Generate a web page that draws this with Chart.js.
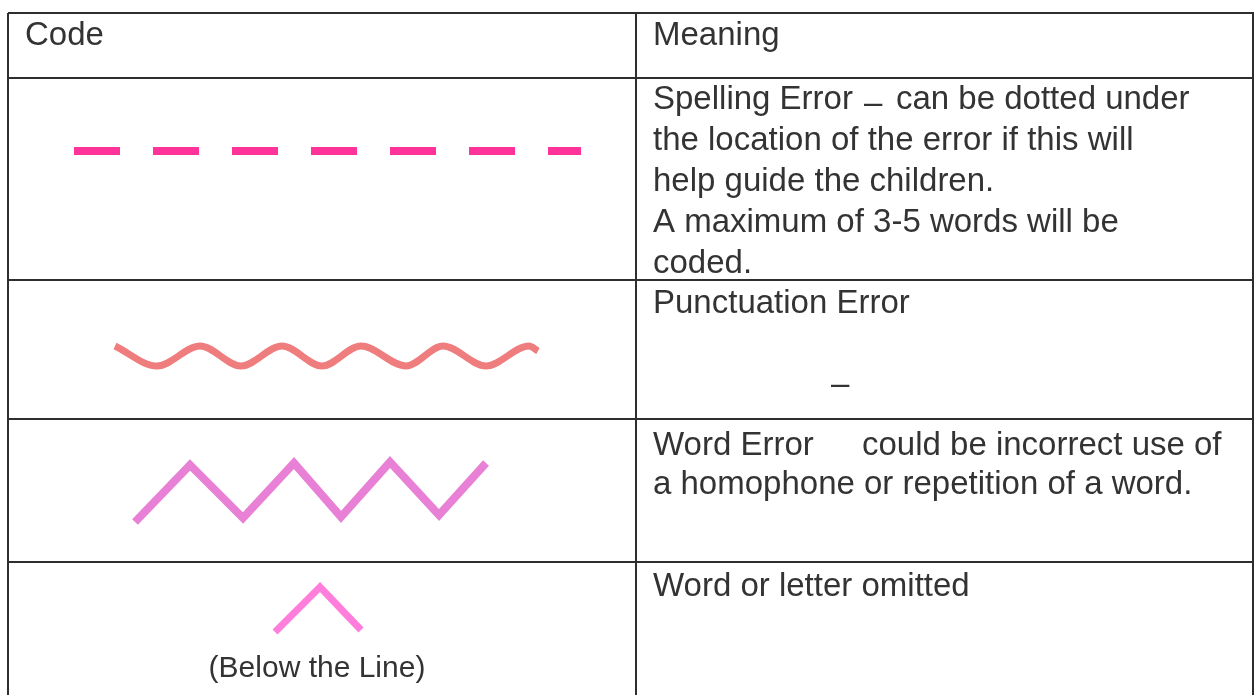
<!DOCTYPE html>
<html><head><meta charset="utf-8">
<script src="https://cdn.jsdelivr.net/npm/chart.js@4.4.1/dist/chart.umd.min.js"></script>
<style>html,body{margin:0;padding:0;background:#fff;overflow:hidden}canvas{display:block}</style>
</head><body><canvas id="c" width="1254" height="695"></canvas>
<script>
// ---- text content ----
const headerLabels = ["Code", "Meaning"];
const spellingText = ["Spelling Error", "\u2013", "can be dotted under",
  "the location of the error if this will", "help guide the children.",
  "A maximum of 3-5 words will be", "coded."];
const punctuationText = ["Punctuation Error", "\u2013"];
const wordErrorText = ["Word Error", "could be incorrect use of", "a homophone or repetition of a word."];
const omittedText = ["Word or letter omitted"];
const caretCaption = ["(Below the Line)"];

// ---- table rule values (scale units) ----
const columnRules = [8, 636, 1253];
const rowRules = [13, 78, 280, 419, 562];

// ---- code marks (scale units) ----
const spellingX = [74, 581];
const spellingY = [151, 151];
const waveX = [115, 157, 200, 241, 282, 322, 361, 406, 443, 486, 529, 538];
const waveY = [346, 366, 346, 366, 346, 366, 346, 366, 346, 366, 346, 351];
const zigzagX = [135, 190, 243, 294, 341, 390, 439, 486];
const zigzagY = [522, 465, 518, 463, 517, 462, 515, 463];
const caretX = [275, 320, 361];
const caretY = [632, 587, 630];

// ---- layout (positions separate from content) ----
const FONT = '"Liberation Sans", Arial, sans-serif';
const textLayout = [
  {t: headerLabels[0], x: 25, y: 45},
  {t: headerLabels[1], x: 653, y: 45},
  {t: spellingText[0], x: 653, y: 109},
  {t: spellingText[1], x: 864, y: 113},
  {t: spellingText[2], x: 896, y: 109},
  {t: spellingText[3], x: 653, y: 150},
  {t: spellingText[4], x: 653, y: 191},
  {t: spellingText[5], x: 653, y: 232},
  {t: spellingText[6], x: 653, y: 273},
  {t: punctuationText[0], x: 653, y: 313},
  {t: punctuationText[1], x: 831, y: 394},
  {t: wordErrorText[0], x: 653, y: 455},
  {t: wordErrorText[1], x: 862, y: 455},
  {t: wordErrorText[2], x: 653, y: 494},
  {t: omittedText[0], x: 653, y: 596},
  {t: caretCaption[0], x: 317, y: 677, align: 'center', size: 30}
];

const pts = (xs, ys) => xs.map((x, i) => ({x, y: ys[i]}));

const textPlugin = {
  id: 'tableText',
  afterDraw(chart) {
    const {ctx, scales: {x, y}} = chart;
    ctx.save();
    ctx.fillStyle = '#333';
    ctx.textBaseline = 'alphabetic';
    textLayout.forEach(item => {
      ctx.font = (item.size || 33) + 'px ' + FONT;
      ctx.textAlign = item.align || 'left';
      ctx.fillText(item.t, x.getPixelForValue(item.x), y.getPixelForValue(item.y));
    });
    ctx.restore();
  }
};

const ruleAxis = (values) => ({
  type: 'linear',
  display: true,
  ticks: {display: false},
  grid: {color: '#2e2e2e', lineWidth: 2, drawTicks: false},
  border: {display: false},
  afterBuildTicks: s => { s.ticks = values.map(v => ({value: v})); }
});

new Chart(document.getElementById('c'), {
  type: 'scatter',
  data: {
    datasets: [
      {data: pts(spellingX, spellingY), showLine: true, borderColor: '#ff3399', borderWidth: 8,
       borderDash: [46, 33], borderCapStyle: 'butt', pointRadius: 0},
      {data: pts(waveX, waveY), showLine: true, borderColor: '#ef7d7d', borderWidth: 7,
       cubicInterpolationMode: 'monotone', borderCapStyle: 'butt', pointRadius: 0},
      {data: pts(zigzagX, zigzagY), showLine: true, borderColor: '#e880d6', borderWidth: 8,
       tension: 0, borderJoinStyle: 'miter', borderCapStyle: 'butt', pointRadius: 0},
      {data: pts(caretX, caretY), showLine: true, borderColor: '#ff7edc', borderWidth: 7,
       tension: 0, borderJoinStyle: 'miter', borderCapStyle: 'butt', pointRadius: 0}
    ]
  },
  options: {
    responsive: false,
    animation: false,
    devicePixelRatio: 1,
    events: [],
    layout: {padding: {left: 8, top: 13, right: 0, bottom: 0}},
    plugins: {legend: {display: false}, tooltip: {enabled: false}},
    scales: {
      x: Object.assign(ruleAxis(columnRules), {min: 8, max: 1254}),
      y: Object.assign(ruleAxis(rowRules), {min: 13, max: 695, reverse: true})
    }
  },
  plugins: [textPlugin]
});
</script>
</body></html>
